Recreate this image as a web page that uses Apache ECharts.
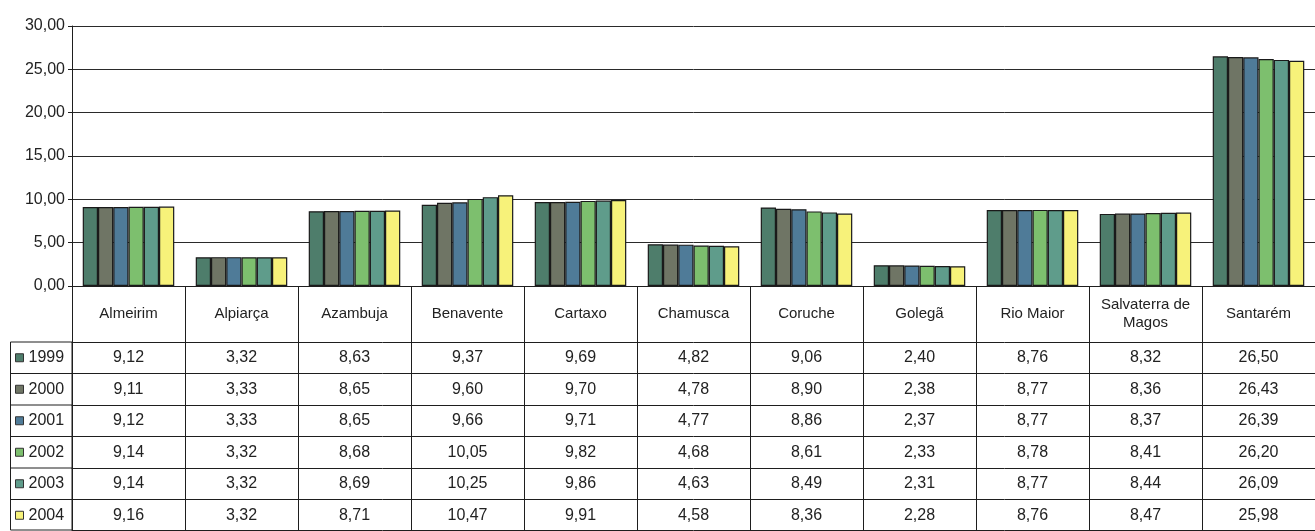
<!DOCTYPE html>
<html><head><meta charset="utf-8">
<script src="https://cdn.jsdelivr.net/npm/echarts@6/dist/echarts.min.js"></script>
<style>html,body{margin:0;padding:0;background:#fff}#c{width:1315px;height:531px}</style>
</head><body><div id="c"></div>
<script>
// ---- data ----
const categories = ['Almeirim','Alpiarça','Azambuja','Benavente','Cartaxo','Chamusca','Coruche','Golegã','Rio Maior','Salvaterra de\nMagos','Santarém'];
const years = ['1999','2000','2001','2002','2003','2004'];
const v1999 = [9.12,3.32,8.63,9.37,9.69,4.82,9.06,2.40,8.76,8.32,26.50];
const v2000 = [9.11,3.33,8.65,9.60,9.70,4.78,8.90,2.38,8.77,8.36,26.43];
const v2001 = [9.12,3.33,8.65,9.66,9.71,4.77,8.86,2.37,8.77,8.37,26.39];
const v2002 = [9.14,3.32,8.68,10.05,9.82,4.68,8.61,2.33,8.78,8.41,26.20];
const v2003 = [9.14,3.32,8.69,10.25,9.86,4.63,8.49,2.31,8.77,8.44,26.09];
const v2004 = [9.16,3.32,8.71,10.47,9.91,4.58,8.36,2.28,8.76,8.47,25.98];
const yMin = 0, yMax = 30, yStep = 5;

// ---- style / layout ----
const seriesValues = [v1999, v2000, v2001, v2002, v2003, v2004];
const colors = ['#4e7d6b','#6f7565','#4f7b98','#7dbf6e','#5f9c8b','#f7f27a'];
const FONT = "'Liberation Sans', Arial, sans-serif";
const INK = '#1e1e1e';
const GRID_LEFT = 72, GRID_TOP = 26, AXIS_Y = 286, H = 531;
const HEADER_H = 56, ROW_H = 31.5;
const fmt = v => v.toFixed(2).replace('.', ',');

const xAxes = [{
  type: 'category', data: categories, position: 'bottom',
  axisLine: {lineStyle: {color: INK, width: 1}},
  axisTick: {show: true, interval: 0, length: H - AXIS_Y, lineStyle: {color: INK, width: 1}},
  axisLabel: {interval: 0, margin: HEADER_H / 2, verticalAlign: 'middle', color: '#222',
    fontFamily: FONT, fontSize: 15, lineHeight: 18},
  splitLine: {show: false}
}];
years.forEach((y, i) => {
  const vals = seriesValues[i];
  xAxes.push({
    type: 'category', data: categories, position: 'bottom', offset: HEADER_H + ROW_H * i,
    axisLine: {lineStyle: {color: INK, width: 1}},
    axisTick: {show: false},
    axisLabel: {interval: 0, margin: ROW_H / 2, verticalAlign: 'middle', color: '#222',
      fontFamily: FONT, fontSize: 16,
      formatter: (val, idx) => fmt(vals[idx])},
    splitLine: {show: false}
  });
});
xAxes.push({
  type: 'category', data: categories, position: 'bottom', offset: H - AXIS_Y - 1,
  axisLine: {lineStyle: {color: INK, width: 1}}, axisTick: {show: false}, axisLabel: {show: false}
});

const graphics = [{
  type: 'rect', shape: {x: 10.5, y: AXIS_Y + HEADER_H, width: GRID_LEFT - 10.5, height: H - AXIS_Y - HEADER_H - 1},
  style: {fill: 'none', stroke: INK, lineWidth: 1}, silent: true
}];
for (let i = 1; i < years.length; i++) {
  const yy = AXIS_Y + HEADER_H + ROW_H * i;
  graphics.push({type: 'line', shape: {x1: 10.5, y1: yy, x2: GRID_LEFT, y2: yy},
    style: {stroke: INK, lineWidth: 1}, silent: true});
}

const chart = echarts.init(document.getElementById('c'), null, {renderer: 'canvas'});
chart.setOption({
  animation: false,
  backgroundColor: '#fff',
  grid: {left: GRID_LEFT, right: 0, top: GRID_TOP, bottom: H - AXIS_Y, containLabel: false},
  legend: {
    data: years, orient: 'vertical', left: 15, top: AXIS_Y + HEADER_H + (ROW_H - 16) / 2,
    padding: 0, height: 190,
    itemWidth: 8, itemHeight: 8, itemGap: ROW_H - 16, icon: 'rect', selectedMode: false,
    itemStyle: {borderColor: '#333', borderWidth: 1},
    textStyle: {fontFamily: FONT, fontSize: 16, lineHeight: 16, color: '#222'}
  },
  xAxis: xAxes,
  yAxis: {
    type: 'value', min: yMin, max: yMax, interval: yStep,
    axisLine: {show: true, lineStyle: {color: INK, width: 1}},
    axisTick: {show: true, length: 4, lineStyle: {color: INK}},
    axisLabel: {margin: 7, color: '#222', fontFamily: FONT, fontSize: 16, formatter: v => fmt(v)},
    splitLine: {show: true, lineStyle: {color: '#2a2a2a', width: 1}}
  },
  graphic: graphics,
  series: years.map((y, i) => ({
    name: y, type: 'bar', xAxisIndex: 0, yAxisIndex: 0,
    data: seriesValues[i], barGap: '0%', barCategoryGap: '19%',
    itemStyle: {color: colors[i], borderColor: '#1a1a1a', borderWidth: 1.2}
  }))
});
</script></body></html>
